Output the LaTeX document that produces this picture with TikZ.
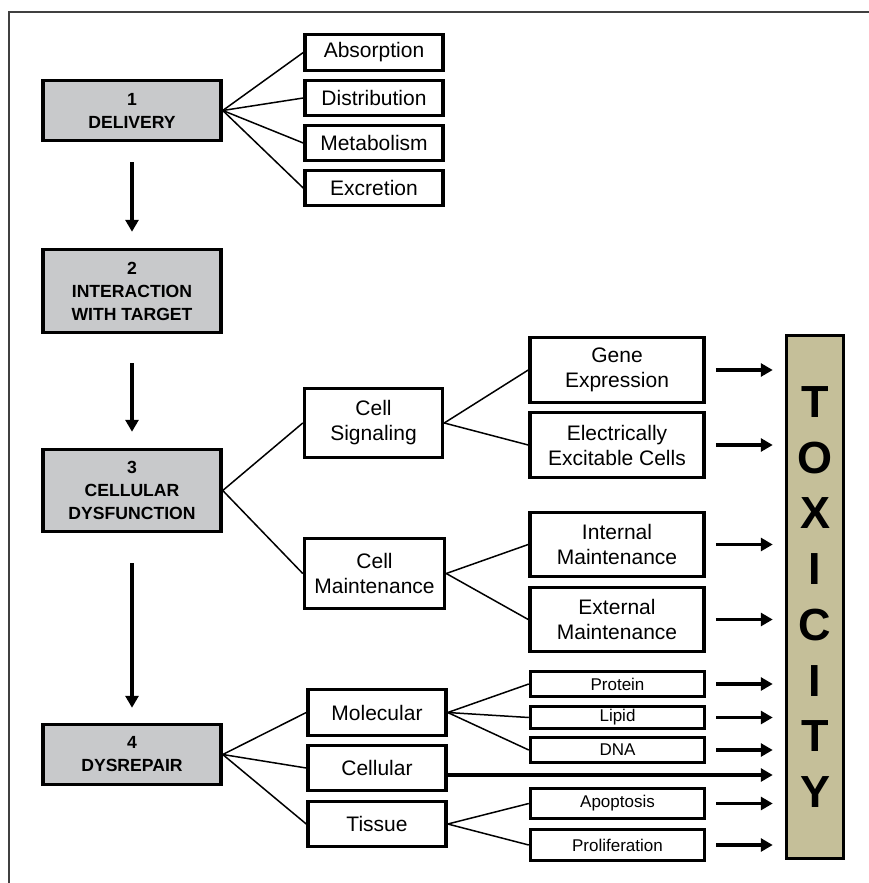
\documentclass[tikz,border=0pt]{standalone}
\usepackage{fontspec}
\setmainfont{Liberation Sans}
\usetikzlibrary{arrows.meta,positioning}
\definecolor{stagegray}{RGB}{200,201,203}
\definecolor{toxtan}{RGB}{197,191,153}

\begin{document}
\begin{tikzpicture}[x=1pt,y=-1pt,
    stage/.style={draw, line width=3.5pt, fill=stagegray, minimum width=178pt, align=center, inner sep=0pt, font=\fontsize{17.6}{23}\selectfont\bfseries},
    sub/.style={draw, line width=3.5pt, fill=white, minimum width=138pt, align=center, inner sep=0pt, font=\fontsize{21}{25}\selectfont},
    leaf/.style={sub, minimum width=174pt},
    small/.style={leaf, font=\fontsize{17}{20}\selectfont},
    link/.style={line width=1.5pt},
    flow/.style={line width=3.5pt, -{Triangle[length=12pt,width=13pt]}}]
    \useasboundingbox (0,0) rectangle (869,883);
    \draw[line width=2pt, black!75] (9,883) -- (9,12) -- (869,12);

    \node[stage, minimum height=60pt] (delivery) at (132,110.5) {1\\DELIVERY};
    \node[stage, minimum height=83pt] (interaction) at (132,291) {2\\INTERACTION\\WITH TARGET};
    \node[stage, minimum height=82pt] (dysfunction) at (132,490.5) {3\\CELLULAR\\DYSFUNCTION};
    \node[stage, minimum height=60pt] (dysrepair) at (132,754.5) {4\\DYSREPAIR};

    \node[sub, minimum height=36pt] (absorption) at (374,52.5) {Absorption};
    \node[sub, minimum height=35pt] (distribution) at (374,98) {Distribution};
    \node[sub, minimum height=35pt] (metabolism) at (374,143) {Metabolism};
    \node[sub, minimum height=35pt] (excretion) at (374,188) {Excretion};

    \node[sub, minimum height=69pt] (signaling) at (373.5,423) {Cell\\Signaling};
    \node[sub, minimum height=70pt, minimum width=140pt] (maintenance) at (374.5,573.5) {Cell\\Maintenance};
    \node[leaf, minimum height=65pt] (gene) at (617,370) {Gene\\Expression};
    \node[leaf, minimum height=65pt] (electric) at (617,445) {Electrically\\Excitable Cells};
    \node[leaf, minimum height=64pt] (internal) at (617,544.5) {Internal\\Maintenance};
    \node[leaf, minimum height=64pt] (external) at (617,619.5) {External\\Maintenance};

    \node[sub, minimum height=46pt] (molecular) at (377,712.5) {Molecular};
    \node[sub, minimum height=45pt] (cellular) at (377,768) {Cellular};
    \node[sub, minimum height=45pt] (tissue) at (377,824) {Tissue};
    \node[small, minimum height=25pt] (protein) at (617.5,684) {Protein};
    \node[small, minimum height=22pt] (lipid) at (617.5,717.5) {Lipid};
    \node[small, minimum height=25pt] (dna) at (617.5,750) {DNA};
    \node[small, minimum height=30pt] (apoptosis) at (617.5,803.5) {Apoptosis};
    \node[small, minimum height=31pt] (proliferation) at (617.5,845) {Proliferation};

    \node[draw, line width=3.5pt, fill=toxtan, minimum width=57pt, minimum height=523pt, align=center, inner sep=0pt, font=\fontsize{45}{55.7}\selectfont\bfseries] (toxicity) at (815,597) {T\\O\\X\\I\\C\\I\\T\\Y};

    \draw[flow, shorten <=20pt, shorten >=16pt] (delivery) -- (interaction);
    \draw[flow, shorten <=29pt, shorten >=16pt] (interaction) -- (dysfunction);
    \draw[flow, shorten <=30pt, shorten >=15pt] (dysfunction) -- (dysrepair);

    \foreach \n in {absorption,distribution,metabolism,excretion}
        \draw[link] (delivery.east) -- (\n.west);
    \foreach \n in {signaling,maintenance}
        \draw[link] (dysfunction.east) -- (\n.west);
    \foreach \n in {molecular,cellular,tissue}
        \draw[link] (dysrepair.east) -- (\n.west);
    \foreach \n in {gene,electric}
        \draw[link] (signaling.east) -- (\n.west);
    \foreach \n in {internal,external}
        \draw[link] (maintenance.east) -- (\n.west);
    \foreach \n in {protein,lipid,dna}
        \draw[link] (molecular.east) -- (\n.west);
    \foreach \n in {apoptosis,proliferation}
        \draw[link] (tissue.east) -- (\n.west);

    \foreach \n in {gene,electric,internal,external,protein,lipid,dna,apoptosis,proliferation}
        \draw[flow, shorten <=10pt, shorten >=12pt] (\n.east) -- (\n.east -| toxicity.west);
    \draw[flow, shorten >=12pt] ([yshift=-7pt]cellular.east) -- ([yshift=-7pt]cellular.east -| toxicity.west);
\end{tikzpicture}
\end{document}
